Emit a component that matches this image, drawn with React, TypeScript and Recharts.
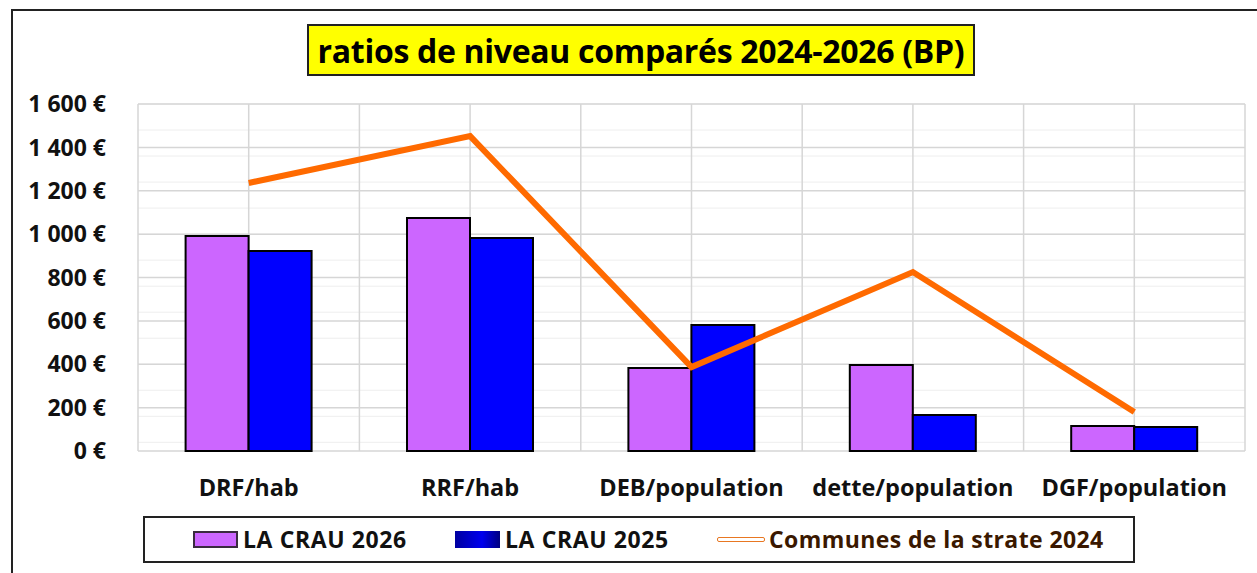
import { Bar, CartesianGrid, ComposedChart, Line, XAxis, YAxis } from 'recharts';

const CATEGORIES = ['DRF/hab', 'RRF/hab', 'DEB/population', 'dette/population', 'DGF/population'];
const CRAU_2026 = [991, 1074, 383, 396, 115];
const CRAU_2025 = [922, 982, 581, 166, 111];
const STRATE_2024 = [1236, 1452, 387, 825, 180];
const Y_TICKS = [0, 200, 400, 600, 800, 1000, 1200, 1400, 1600];
const MINOR_TICKS = Array.from({ length: 41 }, (_, i) => i * 40);

const FONT = '"Open Sans", Lato, sans-serif';

const rows = CATEGORIES.map((name, i) => ({
  name,
  crau2026: CRAU_2026[i],
  crau2025: CRAU_2025[i],
  strate: STRATE_2024[i],
}));

function euro(v: number) {
  if (v >= 1000) return `${Math.floor(v / 1000)} ${String(v % 1000).padStart(3, '0')} €`;
  return `${v} €`;
}

function LegendSwatch({ kind }: { kind: 'purple' | 'blue' | 'line' }) {
  if (kind === 'line')
    return (
      <span
        style={{
          display: 'inline-block',
          width: 46,
          height: 3,
          border: '1.5px solid #e87722',
          borderRadius: 2,
          background: '#fff',
          marginRight: 4,
        }}
      />
    );
  return (
    <span
      style={{
        display: 'inline-block',
        width: 45,
        height: 17,
        background: kind === 'purple' ? '#cc66ff' : 'linear-gradient(90deg, #0000a0, #0000ee 60%, #000080)',
        border: kind === 'purple' ? '2px solid #3a2a40' : 'none',
        boxSizing: 'border-box',
        marginRight: 5,
      }}
    />
  );
}

export default function App() {
  return (
    <div style={{ position: 'absolute', left: 0, top: 0, width: 1257, height: 573, background: '#fff', overflow: 'hidden', fontFamily: FONT }}>
      <div style={{ position: 'absolute', left: 11, top: 9, width: 1300, height: 600, borderLeft: '2px solid #222', borderTop: '2px solid #222' }} />
      <div
        style={{
          position: 'absolute',
          left: 307,
          top: 24,
          width: 668,
          height: 52,
          boxSizing: 'border-box',
          background: '#ffff00',
          border: '2px solid #222',
          display: 'flex',
          alignItems: 'center',
          justifyContent: 'center',
          fontSize: 32,
          fontWeight: 700,
          letterSpacing: -0.3,
          color: '#000',
        }}
      >
        ratios de niveau comparés 2024-2026 (BP)
      </div>
      <div style={{ position: 'absolute', left: 0, top: 0 }}>
        <ComposedChart
          width={1257}
          height={573}
          data={rows}
          margin={{ top: 104, right: 12, bottom: 82, left: 0 }}
          barGap={0}
          barCategoryGap="21.5%"
        >
          <CartesianGrid
            stroke="#eeeeee"
            strokeWidth={1}
            horizontalValues={MINOR_TICKS}
            vertical={false}
          />
          <CartesianGrid
            stroke="#d6d6d6"
            strokeWidth={1.5}
            horizontalValues={Y_TICKS}
            verticalCoordinatesGenerator={({ offset }: any) =>
              Array.from({ length: CATEGORIES.length * 2 + 1 }, (_, i) => offset.left + (i * offset.width) / (CATEGORIES.length * 2))
            }
          />
          <XAxis
            dataKey="name"
            height={40}
            axisLine={false}
            tickLine={false}
            tick={{ fill: '#111', fontSize: 23.5, fontWeight: 700, fontFamily: FONT }}
            tickMargin={22}
            interval={0}
          />
          <YAxis
            width={138}
            domain={[0, 1600]}
            ticks={Y_TICKS}
            axisLine={false}
            tickLine={false}
            tickFormatter={euro}
            tick={{ fill: '#111', fontSize: 23, fontWeight: 700, fontFamily: FONT }}
            tickMargin={26}
          />
          <Bar dataKey="crau2026" name="LA CRAU 2026" fill="#cc66ff" stroke="#000" strokeWidth={2} isAnimationActive={false} />
          <Bar dataKey="crau2025" name="LA CRAU 2025" fill="#0000ff" stroke="#000" strokeWidth={2} isAnimationActive={false} />
          <Line
            dataKey="strate"
            name="Communes de la strate 2024"
            stroke="#ff6a00"
            strokeWidth={6}
            dot={false}
            type="linear"
            isAnimationActive={false}
          />
        </ComposedChart>
      </div>
      <div
        style={{
          position: 'absolute',
          left: 143,
          top: 516,
          width: 992,
          height: 47,
          boxSizing: 'border-box',
          border: '2px solid #222',
          background: '#fff',
          fontSize: 23,
          fontWeight: 700,
          color: '#111',
        }}
      >
        <div style={{ position: 'absolute', left: 48, top: 5, display: 'flex', alignItems: 'center', letterSpacing: 0.6 }}>
          <LegendSwatch kind="purple" />
          LA CRAU 2026
        </div>
        <div style={{ position: 'absolute', left: 310, top: 5, display: 'flex', alignItems: 'center', letterSpacing: 0.6 }}>
          <LegendSwatch kind="blue" />
          LA CRAU 2025
        </div>
        <div style={{ position: 'absolute', left: 572, top: 5, display: 'flex', alignItems: 'center', color: '#3a1800', letterSpacing: 0.4 }}>
          <LegendSwatch kind="line" />
          Communes de la strate 2024
        </div>
      </div>
    </div>
  );
}
